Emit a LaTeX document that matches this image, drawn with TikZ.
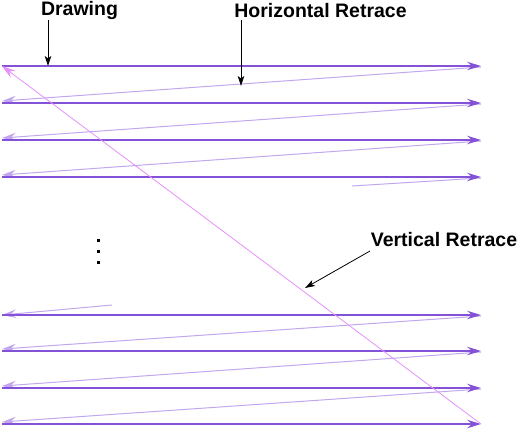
\documentclass[tikz,border=0pt]{standalone}
\usepackage{fontspec}
\setmainfont{Liberation Sans}
\usetikzlibrary{arrows.meta}
\definecolor{drawcol}{HTML}{8452D6}
\definecolor{hretcol}{HTML}{C2A6EE}
\definecolor{vretcol}{HTML}{E690FA}
\tikzset{
  scanline/.style={draw=drawcol, line width=1.2pt, -{Stealth[length=14pt,width=8.5pt,inset=5pt]}},
  hretrace/.style={draw=hretcol, line width=1pt, -{Stealth[length=14pt,width=8.5pt,inset=5pt]}},
  vretrace/.style={draw=vretcol, line width=0.8pt, -{Stealth[length=14pt,width=8.5pt,inset=5pt]}},
  pointer/.style={draw=black, line width=0.8pt, -{Stealth[length=10pt,width=6.5pt,inset=2.5pt]}},
  lbl/.style={font=\bfseries\fontsize{19.5}{21}\selectfont, inner sep=0pt}
}
\begin{document}
\begin{tikzpicture}[x=1pt,y=-1pt]
    \useasboundingbox (0,0) rectangle (518,430);
    \newcommand{\lft}{2}
    \newcommand{\rgt}{481}

    % end points of the scan lines
    \coordinate (l1) at (\lft,66);  \coordinate (r1) at (\rgt,66);
    \coordinate (l2) at (\lft,103); \coordinate (r2) at (\rgt,103);
    \coordinate (l3) at (\lft,140); \coordinate (r3) at (\rgt,140);
    \coordinate (l4) at (\lft,177); \coordinate (r4) at (\rgt,177);
    \coordinate (l5) at (\lft,315); \coordinate (r5) at (\rgt,315);
    \coordinate (l6) at (\lft,351); \coordinate (r6) at (\rgt,351);
    \coordinate (l7) at (\lft,388); \coordinate (r7) at (\rgt,388);
    \coordinate (l8) at (\lft,424); \coordinate (r8) at (\rgt,424);

    % horizontal retrace
    \draw[hretrace] ([yshift=-1pt]r1) -- ([yshift=2pt]l2);
    \draw[hretrace] ([yshift=-1pt]r2) -- ([yshift=2pt]l3);
    \draw[hretrace] ([yshift=-1pt]r3) -- ([yshift=2pt]l4);
    \coordinate (cut4) at (352,186);
    \draw[hretrace,-] ([yshift=-1pt]r4) -- (cut4);
    \coordinate (cut5) at (112,305);
    \draw[hretrace] (cut5) -- (l5);
    \draw[hretrace] ([yshift=-1pt]r5) -- ([yshift=2pt]l6);
    \draw[hretrace] ([yshift=-1pt]r6) -- ([yshift=2pt]l7);
    \draw[hretrace] ([yshift=-1pt]r7) -- ([yshift=2pt]l8);

    % drawing
    \draw[scanline] (l1) -- (r1);
    \draw[scanline] (l2) -- (r2);
    \draw[scanline] (l3) -- (r3);
    \draw[scanline] (l4) -- (r4);
    \draw[scanline] (l5) -- (r5);
    \draw[scanline] (l6) -- (r6);
    \draw[scanline] (l7) -- (r7);
    \draw[scanline] (l8) -- (r8);

    % vertical retrace
    \draw[vretrace] (r8) -- (l1);

    % skipped lines
    \fill (96.5,238.5) rectangle ++(3,3);
    \fill (96.5,249.5) rectangle ++(3,3);
    \fill (96.5,260.5) rectangle ++(3,3);

    % labels
    \node[lbl] (drawing) at (79.5,11) {Drawing};
    \node[lbl] (hretrace) at (320.5,11) {Horizontal Retrace};
    \node[lbl] (vretrace) at (444,239.5) {Vertical Retrace};
    \coordinate (dfrom) at (48,20);  \coordinate (dto) at (48,66);
    \coordinate (hfrom) at (241,20); \coordinate (hto) at (241,86);
    \coordinate (vfrom) at (370,251); \coordinate (vto) at (305,288);
    \draw[pointer] (dfrom) -- (dto);
    \draw[pointer] (hfrom) -- (hto);
    \draw[pointer] (vfrom) -- (vto);
\end{tikzpicture}
\end{document}
